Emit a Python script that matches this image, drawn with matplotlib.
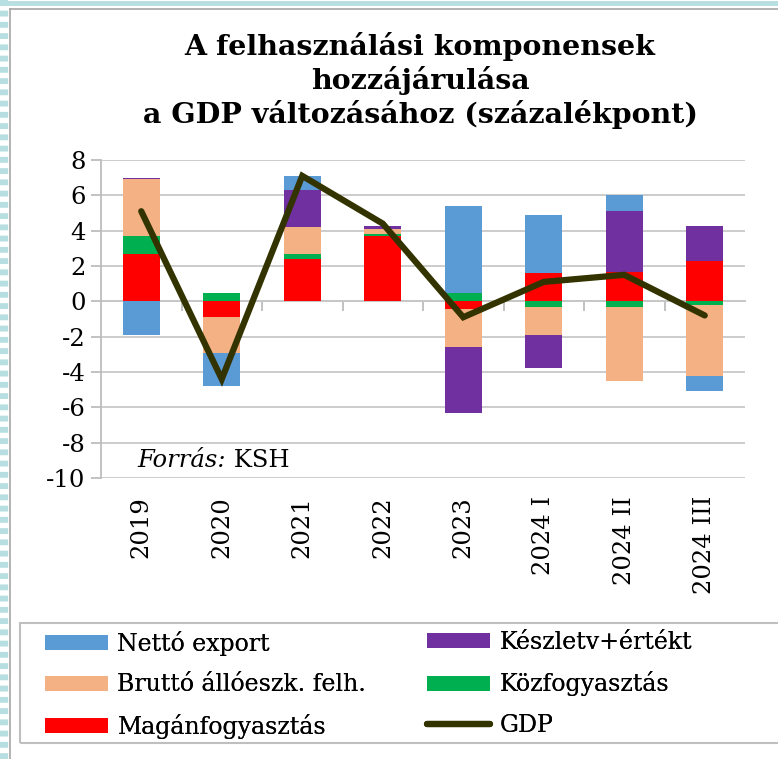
import matplotlib
matplotlib.use('Agg')
import matplotlib.pyplot as plt
from matplotlib.lines import Line2D
from matplotlib.patches import Rectangle
import numpy as np

# data (percentage points)
categories = ['2019', '2020', '2021', '2022', '2023', '2024 I', '2024 II', '2024 III']
magan = [2.69, -0.91, 2.38, 3.67, -0.41, 1.59, 1.66, 2.29]
koz = [0.98, 0.47, 0.28, 0.15, 0.47, -0.30, -0.30, -0.20]
brutto = [3.23, -2.02, 1.53, 0.25, -2.19, -1.60, -4.19, -4.00]
keszlet = [0.10, 0.00, 2.10, 0.19, -3.70, -1.89, 3.44, 2.00]
netto_export = [-1.89, -1.86, 0.79, 0.00, 4.90, 3.28, 0.90, -0.89]
gdp = [5.1, -4.4, 7.1, 4.4, -0.9, 1.1, 1.5, -0.8]

plt.rcParams['font.family'] = 'DejaVu Serif'
plt.rcParams['axes.unicode_minus'] = False

fig = plt.figure(figsize=(7.78, 7.59), dpi=100)
ax = fig.add_axes([101 / 778, 1 - 478 / 759, 644 / 778, 318 / 759])

x = np.arange(len(categories))
# stacking order as in the original (Excel stacks pos/neg separately)
series = [
    ('Magánfogyasztás', magan, '#FF0000'),
    ('Közfogyasztás', koz, '#00B050'),
    ('Bruttó állóeszk. felh.', brutto, '#F4B183'),
    ('Készletv+értékt', keszlet, '#7030A0'),
    ('Nettó export', netto_export, '#5B9BD5'),
]
pos = np.zeros(len(x))
neg = np.zeros(len(x))
handles = {}
for name, vals, col in series:
    v = np.array(vals)
    bottom = np.where(v >= 0, pos, neg)
    b = ax.bar(x, v, 0.46, bottom=bottom, color=col, edgecolor='none', zorder=2)
    handles[name] = b
    pos = pos + np.clip(v, 0, None)
    neg = neg + np.clip(v, None, 0)

line, = ax.plot(x, gdp, color='#333300', lw=4.5, solid_capstyle='round',
                solid_joinstyle='miter', zorder=3)

ax.set_xlim(-0.5, len(x) - 0.5)
ax.set_ylim(-10, 8)
ax.set_yticks(np.arange(-10, 9, 2))
ax.yaxis.grid(True, color='#C8C8C8', lw=1.3, zorder=0)
ax.set_axisbelow(True)
for s in ['top', 'right', 'bottom']:
    ax.spines[s].set_visible(False)
ax.spines['left'].set_color('#BDBDBD')
ax.spines['left'].set_linewidth(1.3)
ax.tick_params(axis='y', length=7, width=1.3, color='#BDBDBD', labelsize=17.5, pad=4)
ax.tick_params(axis='x', length=0, labelsize=17.5, pad=13)
ax.set_xticks(x)
ax.set_xticklabels(categories, rotation=90, va='top')

# horizontal axis line at zero with category-boundary tick marks (pointing down)
sec = ax.secondary_xaxis(10 / 18)
for sp in sec.spines.values():
    sp.set_color('#BDBDBD')
    sp.set_linewidth(1.3)
sec.set_xticks(np.arange(0.5, len(x) - 0.5, 1))
sec.set_xticklabels([])
sec.xaxis.set_ticks_position('bottom')
sec.tick_params(length=7, width=1.3, color='#BDBDBD', direction='out')

t = ax.text(0.056, 0.035, 'Forrás:', transform=ax.transAxes, fontsize=17.5,
            style='italic', va='baseline')
ax.annotate(' KSH', xy=(1, 0), xycoords=t, va='bottom', fontsize=17.5)

fig.text(0.54, 1 - 32 / 759,
         'A felhasználási komponensek\nhozzájárulása\na GDP változásához (százalékpont)',
         ha='center', va='top', fontsize=20.5, fontweight='bold', linespacing=1.22)

# legend: frame drawn separately, two single-column legends inside
fig.add_artist(Rectangle((20 / 778, 1 - 743 / 759), 770 / 778, 120 / 759,
                         transform=fig.transFigure, fill=False,
                         edgecolor='#BFBFBF', lw=1.5))
cols = [
    (['Nettó export', 'Bruttó állóeszk. felh.', 'Magánfogyasztás'], 45),
    (['Készletv+értékt', 'Közfogyasztás', 'GDP'], 427),
]
for names, x0 in cols:
    hh = [line if n == 'GDP' else handles[n] for n in names]
    leg = fig.legend(hh, names, loc='upper left',
                     bbox_to_anchor=(x0 / 778, 1 - 631 / 759),
                     fontsize=17, frameon=False, handlelength=2.67,
                     handleheight=0.6, labelspacing=0.74, borderaxespad=0.0,
                     borderpad=0.0, handletextpad=0.4)
    fig.add_artist(leg)

# decorative page border on the left / top
fig.add_artist(Line2D([4 / 778, 4 / 778], [0, 1], transform=fig.transFigure,
                      color='#B7DEE0', lw=6, dashes=(0.7, 0.65), solid_capstyle='butt'))
fig.add_artist(Line2D([0, 1], [1 - 2.5 / 759, 1 - 2.5 / 759], transform=fig.transFigure,
                      color='#B7DEE0', lw=3.5))
fig.add_artist(Line2D([9.5 / 778, 9.5 / 778], [0, 1 - 9 / 759], transform=fig.transFigure,
                      color='#A6A6A6', lw=1.2))
fig.add_artist(Line2D([9.5 / 778, 1], [1 - 9 / 759, 1 - 9 / 759], transform=fig.transFigure,
                      color='#A6A6A6', lw=1.2))

fig.savefig('out.png', dpi=100)
